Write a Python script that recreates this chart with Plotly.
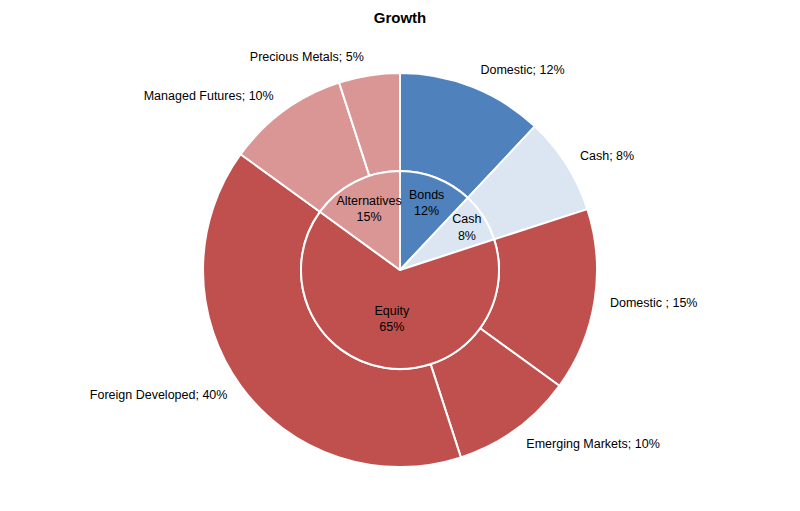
import plotly.graph_objects as go

# Inner ring (asset classes)
inner_keys = ["Bonds", "Cash", "Equity", "Alternatives"]
inner_values = [12, 8, 65, 15]
inner_colors = ["#4F81BD", "#DCE6F2", "#C0504D", "#D99694"]

# Outer ring (sub-classes)
outer_keys = ["Bonds Domestic", "Cash", "Equity Domestic", "Emerging Markets",
              "Foreign Developed", "Managed Futures", "Precious Metals"]
outer_names = ["Domestic", "Cash", "Domestic ", "Emerging Markets",
               "Foreign Developed", "Managed Futures", "Precious Metals"]
outer_values = [12, 8, 15, 10, 40, 10, 5]
outer_colors = ["#4F81BD", "#DCE6F2", "#C0504D", "#C0504D",
                "#C0504D", "#D99694", "#D99694"]

W, H = 800, 511
off = 8  # page body margin
cx, cy = 400 - off, 270 - off
R_out, R_in = 197, 99
R_lbl = 209  # radius of the invisible ring that carries the outer labels

def dom(r):
    yb = H - cy
    return dict(x=[(cx - r) / W, (cx + r) / W], y=[(yb - r) / H, (yb + r) / H])

font = "Liberation Sans, Arial, sans-serif"

outer_text = [f"{n}; {v}%" for n, v in zip(outer_names, outer_values)]
inner_text = [f"{n}<br>{v}%" for n, v in zip(inner_keys, inner_values)]

fig = go.Figure()
# invisible ring: only used to place the outer labels a bit away from the pie
fig.add_trace(go.Pie(
    labels=outer_keys, values=outer_values, text=outer_text,
    textinfo="text", textposition="outside", sort=False, direction="clockwise",
    rotation=0, domain=dom(R_lbl),
    marker=dict(colors=["rgba(0,0,0,0)"] * len(outer_values),
                line=dict(color="rgba(0,0,0,0)", width=0)),
    textfont=dict(family=font, size=12.5, color="#000000"),
    showlegend=False, hoverinfo="skip", automargin=False,
))
fig.add_trace(go.Pie(
    labels=outer_keys, values=outer_values, text=outer_text,
    textinfo="none", sort=False, direction="clockwise",
    rotation=0, hole=R_in / R_out, domain=dom(R_out),
    marker=dict(colors=outer_colors, line=dict(color="white", width=2)),
    showlegend=False, hoverinfo="text",
))
fig.add_trace(go.Pie(
    labels=inner_keys, values=inner_values, text=inner_text,
    textinfo="text", textposition="inside", insidetextorientation="horizontal",
    sort=False, direction="clockwise", rotation=0, domain=dom(R_in),
    marker=dict(colors=inner_colors, line=dict(color="white", width=2)),
    textfont=dict(family=font, size=12.5, color="#000000"),
    showlegend=False, hoverinfo="text",
))
fig.update_layout(
    width=W, height=H, margin=dict(l=0, r=0, t=0, b=0),
    paper_bgcolor="white", plot_bgcolor="white",
    uniformtext=dict(minsize=12.5, mode="show"),
    title=dict(text="<b>Growth</b>", x=(400 - off) / W, xanchor="center",
               y=1 - (18 - off) / H, yanchor="middle",
               font=dict(family=font, size=15, color="#000000")),
)
fig.write_html("out.html")
